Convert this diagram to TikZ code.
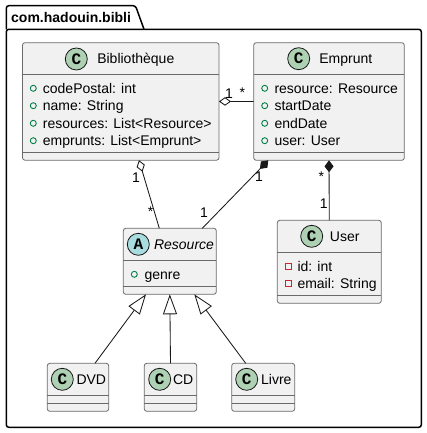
\documentclass[tikz,border=0pt]{standalone}
\usepackage{fontspec}
\setmainfont{Liberation Sans}
\setmonofont{Liberation Mono}
\usetikzlibrary{arrows.meta}
\definecolor{boxfill}{HTML}{F1F1F1}
\definecolor{boxline}{HTML}{6A6A6A}
\definecolor{inkline}{HTML}{181818}
\definecolor{classgreen}{HTML}{ADD1B2}
\definecolor{abstractblue}{HTML}{A9DCDF}
\definecolor{publicgreen}{HTML}{038048}
\definecolor{privatered}{HTML}{C82930}
\tikzset{
  umlbox/.style={draw=boxline, fill=boxfill, line width=0.8pt, rounded corners=2.5pt, anchor=north west, inner sep=0pt, outer sep=0pt},
  umlsep/.style={draw=boxline, line width=0.8pt},
  pkgline/.style={draw=black, line width=1.5pt, line join=round},
  badge/.style={draw=inkline, circle, line width=0.8pt, minimum size=22pt, inner sep=0pt, font=\ttfamily\bfseries\fontsize{16}{16}\selectfont},
  title/.style={font=\fontsize{14}{14}\selectfont, anchor=base, inner sep=0pt, text=black},
  member/.style={font=\fontsize{14}{14}\selectfont, anchor=base west, inner sep=0pt, text=black},
  pubmark/.style={draw=publicgreen, circle, line width=0.9pt, minimum size=6pt, inner sep=0pt},
  privmark/.style={draw=privatered, rectangle, line width=1pt, minimum size=6pt, inner sep=0pt},
  card/.style={font=\fontsize{14}{14}\selectfont, inner sep=0pt, text=black},
  assoc/.style={draw=inkline, line width=0.85pt},
  aggr/.style={assoc, -{Diamond[open, length=12pt, width=8.5pt, fill=white]}},
  compo/.style={assoc, -{Diamond[length=12pt, width=9pt, fill=inkline]}},
  inherit/.style={assoc, -{Triangle[open, length=20pt, width=14pt, fill=white]}},
}
\begin{document}
\begin{tikzpicture}[x=1pt, y=-1pt]
\useasboundingbox (0,0) rectangle (427,433);
% package
\draw[pkgline, rounded corners=2.5pt] (6.3,29.3) -- (6.3,5.7) -- (135.5,5.7) -- (144,29.3);
\draw[pkgline, rounded corners=2.5pt] (6.3,29.3) -- (421.3,29.3) -- (421.3,427.3) -- (6.3,427.3) -- cycle;
\node[font=\bfseries\fontsize{14}{14}\selectfont, anchor=base west, inner sep=0pt] (pkgname) at (11,23) {com.hadouin.bibli};
% classes
\node[umlbox, minimum width=196.5pt, minimum height=117.5pt] (bibli) at (22.5,42.7) {};
\node[umlbox, minimum width=150.6pt, minimum height=117.6pt] (empr) at (253.7,42.7) {};
\node[umlbox, minimum width=104pt, minimum height=83pt] (user) at (277.3,220.3) {};
\node[umlbox, minimum width=93pt, minimum height=66pt] (res) at (123.3,228.3) {};
\node[umlbox, minimum width=61.4pt, minimum height=48pt] (dvd) at (47.3,363.3) {};
\node[umlbox, minimum width=52.4pt, minimum height=48pt] (cd) at (144.3,363.3) {};
\node[umlbox, minimum width=63pt, minimum height=48pt] (livre) at (231.7,363.3) {};
% compartments
\draw[umlsep] (bibli.west |- 0,74) -- (bibli.east |- 0,74);
\draw[umlsep] (bibli.west |- 0,152) -- (bibli.east |- 0,152);
\draw[umlsep] (empr.west |- 0,74.3) -- (empr.east |- 0,74.3);
\draw[umlsep] (empr.west |- 0,152.3) -- (empr.east |- 0,152.3);
\draw[umlsep] (user.west |- 0,252.3) -- (user.east |- 0,252.3);
\draw[umlsep] (user.west |- 0,295.3) -- (user.east |- 0,295.3);
\draw[umlsep] (res.west |- 0,260.7) -- (res.east |- 0,260.7);
\draw[umlsep] (res.west |- 0,286) -- (res.east |- 0,286);
\foreach \cname in {dvd,cd,livre} {
  \draw[umlsep] (\cname.west |- 0,395.3) -- (\cname.east |- 0,395.3);
  \draw[umlsep] (\cname.west |- 0,403.3) -- (\cname.east |- 0,403.3);
}
% badges and titles
\node[badge, fill=classgreen] (bibliC) at (76.3,59) {C};
\node[badge, fill=classgreen] (emprC) at (298.7,58.7) {C};
\node[badge, fill=classgreen] (userC) at (311.7,236.3) {C};
\node[badge, fill=abstractblue] (resA) at (138.3,244.3) {A};
\node[badge, fill=classgreen] (dvdC) at (62.3,379.3) {C};
\node[badge, fill=classgreen] (cdC) at (159.7,379.3) {C};
\node[badge, fill=classgreen] (livreC) at (246.7,379.3) {C};
\node[title] (biblit) at (135.8,64) {Bibliothèque};
\node[title] (emprt) at (345.8,64) {Emprunt};
\node[title] (usert) at (344.7,241.3) {User};
\node[title, font=\itshape\fontsize{14}{14}\selectfont] (rest) at (184,249.3) {Resource};
\node[title] (dvdt) at (91.3,384.3) {DVD};
\node[title] (cdt) at (183.2,384.3) {CD};
\node[title] (livret) at (276.3,384.3) {Livre};
% members
\node[pubmark] (m1) at (33.3,88.3) {};
\node[member] (t1) at (42.7,93.3) {codePostal: int};
\node[pubmark] (m2) at (33.3,105.7) {};
\node[member] (t2) at (42.7,110.7) {name: String};
\node[pubmark] (m3) at (33.3,123.3) {};
\node[member] (t3) at (42.7,128.3) {resources: List<Resource>};
\node[pubmark] (m4) at (33.3,140.7) {};
\node[member] (t4) at (42.7,145.7) {emprunts: List<Emprunt>};
\node[pubmark] (m5) at (264.7,88.3) {};
\node[member] (t5) at (274.3,93.3) {resource: Resource};
\node[pubmark] (m6) at (264.7,105.7) {};
\node[member] (t6) at (274.3,110.7) {startDate};
\node[pubmark] (m7) at (264.7,123.3) {};
\node[member] (t7) at (274.3,128.3) {endDate};
\node[pubmark] (m8) at (264.7,140.7) {};
\node[member] (t8) at (274.3,145.7) {user: User};
\node[privmark] (m9) at (288.3,266) {};
\node[member] (t9) at (297.3,271) {id: int};
\node[privmark] (m10) at (288.3,283.3) {};
\node[member] (t10) at (297.3,288.3) {email: String};
\node[pubmark] (m11) at (134.3,274.3) {};
\node[member] (t11) at (144.3,279.3) {genre};
% relations
\draw[aggr] (empr.west) -- (bibli.east);
\draw[aggr] ([xshift=-10.5pt]res.north) -- ([xshift=18.25pt]bibli.south);
\draw[compo] ([xshift=32.5pt]res.north) -- ([xshift=-60.7pt]empr.south);
\draw[compo] (user.north) -- (empr.south);
\draw[inherit] ([xshift=17pt]dvd.north) -- ([xshift=-23.8pt]res.south);
\draw[inherit] (cd.north) -- (res.south);
\draw[inherit] ([xshift=-17.5pt]livre.north) -- ([xshift=24.5pt]res.south);
% cardinalities
\node[card] (c1) at (229,93.3) {1};
\node[card] (c2) at (242.3,93) {*};
\node[card] (c3) at (136,177.7) {1};
\node[card] (c4) at (150.7,212) {*};
\node[card] (c5) at (259,176.7) {1};
\node[card] (c6) at (204,213) {1};
\node[card] (c7) at (321.3,177) {*};
\node[card] (c8) at (323.7,204) {1};
\end{tikzpicture}
\end{document}
